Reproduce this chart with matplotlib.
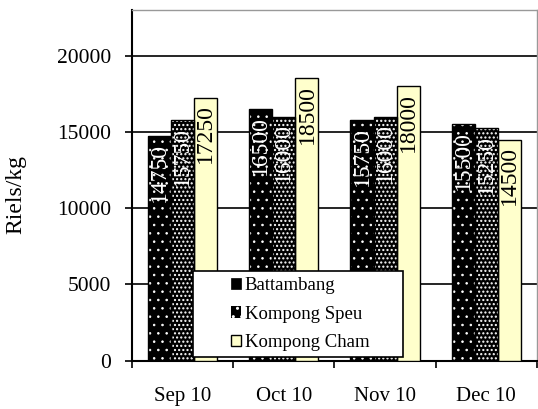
import numpy as np
import matplotlib
matplotlib.use("Agg")
import matplotlib.pyplot as plt
from matplotlib.patches import Rectangle, Patch

plt.rcParams['font.family'] = ['Liberation Serif', 'DejaVu Serif']

months = ["Sep 10", "Oct 10", "Nov 10", "Dec 10"]
provinces = ["Battambang", "Kompong Speu", "Kompong Cham"]
battambang = [14750, 16500, 15750, 15500]
kompong_speu = [15750, 16000, 16000, 15250]
kompong_cham = [17250, 18500, 18000, 14500]
yticks = [0, 5000, 10000, 15000, 20000]

series = [battambang, kompong_speu, kompong_cham]
faces = ["black", "black", "#FFFFCC"]
hatches = ["..", "....", None]
hatch_lw = [0.6, 1.0, 0]
label_colors = ["white", "white", "black"]

fig = plt.figure(figsize=(5.38, 4.09), dpi=100)
ax = fig.add_axes([0.2454, 0.118, 0.7526, 0.858])

x = np.arange(len(months))
w = 0.228
for i, vals in enumerate(series):
    pos = x + (i - 1) * w
    if hatches[i]:
        with plt.rc_context({'hatch.linewidth': hatch_lw[i]}):
            ax.bar(pos, vals, w, color=faces[i], edgecolor="white", hatch=hatches[i],
                   linewidth=0, zorder=3)
        ax.bar(pos, vals, w, fill=False, edgecolor="black", linewidth=1, zorder=4)
    else:
        ax.bar(pos, vals, w, color=faces[i], edgecolor="black", linewidth=1, zorder=3)
    for p, v in zip(pos, vals):
        ax.annotate(str(v), (p, v), xytext=(0, -5), textcoords="offset points",
                    rotation=90, ha="center", va="top", fontsize=17,
                    color=label_colors[i], zorder=5)

ax.set_xlim(-0.5, len(months) - 0.5)
ax.set_ylim(0, 23000)
ax.set_yticks(yticks)
ax.set_yticklabels([str(t) for t in yticks])
ax.yaxis.grid(True, color="black", linewidth=1.2, zorder=0)
ax.set_axisbelow(True)

ax.set_xticks(x)
ax.set_xticklabels(months)
ax.set_xticks(np.arange(-0.5, len(months)), minor=True)
ax.tick_params(axis="x", which="major", length=0, pad=19, labelsize=15)
ax.tick_params(axis="x", which="minor", length=5, width=1.2, direction="out")
ax.tick_params(axis="y", length=5, width=1.2, direction="out", pad=10, labelsize=15.5)
ax.set_ylabel("Riels/kg", fontsize=17)
ax.yaxis.set_label_coords(-0.262, 0.474)

for s in ["left", "bottom"]:
    ax.spines[s].set_linewidth(1.5)
    ax.spines[s].set_color("black")
for s in ["top", "right"]:
    ax.spines[s].set_linewidth(1.0)
    ax.spines[s].set_color("#999999")

# legend frame
ax.add_patch(Rectangle((0.151, 0.011), 0.518, 0.244, transform=ax.transAxes,
                       facecolor="white", edgecolor="black", linewidth=1.2, zorder=6))
with plt.rc_context({'hatch.linewidth': 1.0}):
    handles = [Patch(facecolor="black", edgecolor="black", linewidth=0.5),
               Patch(facecolor="black", edgecolor="white", hatch="..", linewidth=0),
               Patch(facecolor=faces[2], edgecolor="black", linewidth=1)]
leg = ax.legend(handles, provinces, loc="center", bbox_to_anchor=(0.415, 0.133),
                frameon=False, fontsize=13.5, handlelength=0.55, handleheight=0.55,
                handletextpad=0.2, labelspacing=0.62, borderpad=0)
leg.set_zorder(7)

fig.savefig("out.png", dpi=100)
